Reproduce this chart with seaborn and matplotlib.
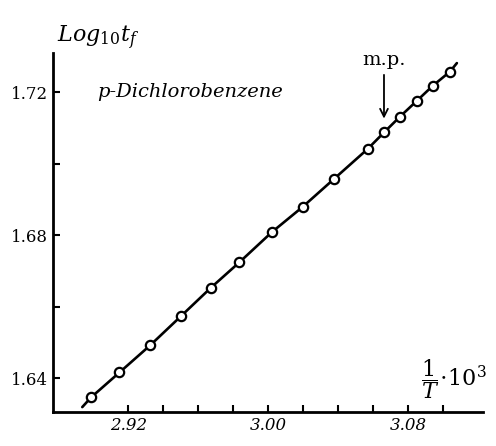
import numpy as np
import pandas as pd
import matplotlib
matplotlib.use('Agg')
import matplotlib.pyplot as plt
import seaborn as sns

# data
inv_T = [2.8987, 2.9150, 2.9326, 2.9501, 2.9671, 2.9836, 3.0021, 3.0198,
         3.0377, 3.0570, 3.0663, 3.0754, 3.0850, 3.0941, 3.1040]
log_tf = [1.6346, 1.6416, 1.6492, 1.6573, 1.6652, 1.6724, 1.6808, 1.6879,
          1.6957, 1.7041, 1.7087, 1.7131, 1.7175, 1.7217, 1.7257]
# drawn line runs a little past the first and last points
line_start = (2.8937, 1.6319)
line_end = (3.1080, 1.7281)
mp_x = 3.0663

x_ticks = [2.92, 2.94, 2.96, 2.98, 3.00, 3.02, 3.04, 3.06, 3.08, 3.10]
x_labels = ['2.92', '', '', '', '3.00', '', '', '', '3.08', '']
y_ticks = [1.64, 1.66, 1.68, 1.70, 1.72]
y_labels = ['1.64', '', '1.68', '', '1.72']

pts = pd.DataFrame({'x': inv_T, 'y': log_tf})
line = pd.DataFrame({'x': [line_start[0]] + inv_T + [line_end[0]],
                     'y': [line_start[1]] + log_tf + [line_end[1]]})

sns.set_style('ticks')
plt.rcParams['font.family'] = ['DejaVu Serif']
plt.rcParams['text.color'] = 'black'
plt.rcParams['mathtext.fontset'] = 'dejavuserif'

fig = plt.figure(figsize=(4.96, 4.46), dpi=100)
ax = fig.add_axes([0.107, 0.076, 0.867, 0.805])

sns.lineplot(data=line, x='x', y='y', sort=False, color='black', lw=1.9, ax=ax)
sns.scatterplot(data=pts, x='x', y='y', s=45, facecolor='white',
                edgecolor='black', linewidth=1.6, zorder=3, ax=ax)

ax.set_xlim(2.877, 3.123)
ax.set_ylim(1.6305, 1.7309)
ax.set_xticks(x_ticks)
ax.set_xticklabels(x_labels, fontsize=12, style='italic')
ax.set_yticks(y_ticks)
ax.set_yticklabels(y_labels, fontsize=12)
ax.tick_params(direction='in', length=5, width=1.5, colors='black',
               labelcolor='black')
ax.set_xlabel('')
ax.set_ylabel('')
sns.despine(ax=ax)
for s in ['left', 'bottom']:
    ax.spines[s].set_linewidth(2)
    ax.spines[s].set_color('black')

# annotations
fig.text(0.115, 0.905, r'Log$_{10}$t$_f$', fontsize=16, style='italic')
ax.text(2.9025, 1.7185, 'p-Dichlorobenzene', fontsize=14, style='italic')
ax.annotate('m.p.', xy=(mp_x, 1.7118), xytext=(mp_x, 1.7265),
            ha='center', va='bottom', fontsize=14,
            arrowprops=dict(arrowstyle='->', color='black', lw=1.3))
ax.text(3.125, 1.6335, r'$\dfrac{1}{T}\!\cdot\!10^3$', fontsize=16,
        ha='right', va='bottom')

fig.savefig('out.png', dpi=100)
